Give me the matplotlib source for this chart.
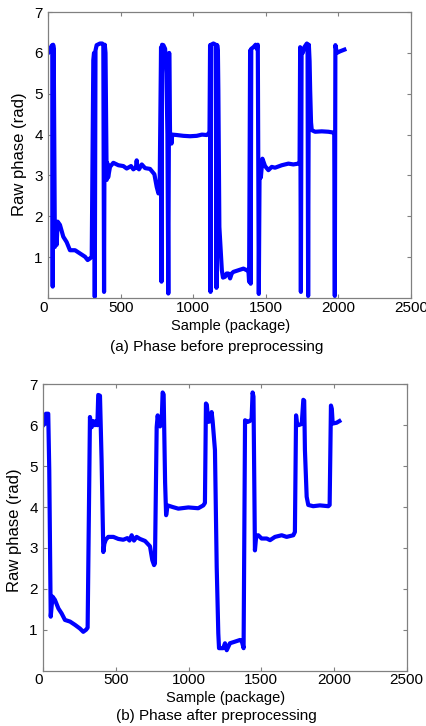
import numpy as np
import matplotlib
matplotlib.use('Agg')
import matplotlib.pyplot as plt

plt.rcParams['font.family'] = ['Liberation Sans', 'DejaVu Sans']

# (a) raw phase, wrapped into [0, 2pi]
before_x = [0, 12, 24, 28, 31, 34, 38, 46, 52, 58, 65, 81, 104, 127, 150, 185, 219, 254, 272, 288,
            300, 311, 316, 321, 326, 334, 357, 372, 380, 385, 390, 395, 403, 408, 413, 426, 449, 484,
            518, 541, 571, 587, 605, 610, 615, 626, 645, 668, 702, 732, 748, 760, 768, 778, 781, 785,
            794, 806, 815, 822, 828, 834, 840, 845, 850, 855, 886, 932, 978, 1024, 1060, 1093, 1104,
            1112, 1116, 1119, 1123, 1139, 1155, 1160, 1165, 1170, 1173, 1180, 1197, 1205, 1219, 1230,
            1242, 1254, 1265, 1277, 1311, 1346, 1369, 1380, 1385, 1392, 1396, 1400, 1415, 1430, 1438,
            1445, 1452, 1457, 1461, 1466, 1477, 1495, 1518, 1541, 1564, 1610, 1656, 1690, 1725, 1733,
            1737, 1742, 1747, 1755, 1766, 1783, 1788, 1792, 1797, 1802, 1806, 1812, 1817, 1840, 1886,
            1932, 1966, 1972, 1976, 1980, 1990, 2013, 2042]
before_y = [6.0, 6.05, 6.18, 6.1, 0.28, 6.2, 6.1, 1.25, 1.6, 1.3, 1.87, 1.79, 1.50, 1.37, 1.17, 1.17,
            1.09, 1.01, 0.93, 0.97, 1.01, 5.82, 6.0, 0.03, 6.06, 6.19, 6.23, 6.23, 6.2, 0.15, 6.2, 6.0,
            2.89, 3.3, 2.95, 3.21, 3.31, 3.25, 3.23, 3.17, 3.23, 3.15, 3.2, 3.37, 3.2, 3.15, 3.27, 3.18,
            3.16, 3.03, 2.72, 2.56, 2.6, 6.14, 0.40, 6.2, 6.19, 6.1, 5.5, 4.0, 0.11, 6.0, 4.0, 3.99,
            3.78, 4.0, 3.99, 3.97, 3.96, 3.97, 4.0, 3.99, 4.02, 4.05, 6.19, 0.15, 6.2, 6.23, 6.2, 0.25,
            6.19, 6.0, 5.09, 1.74, 0.68, 0.5, 0.52, 0.6, 0.60, 0.48, 0.6, 0.64, 0.68, 0.72, 0.68, 0.7,
            0.40, 6.06, 0.35, 6.1, 6.14, 6.2, 6.1, 6.2, 0.1, 3.0, 3.29, 2.95, 3.41, 3.23, 3.13, 3.21,
            3.19, 3.25, 3.29, 3.27, 3.29, 3.3, 6.14, 0.15, 6.1, 6.0, 6.14, 6.23, 6.2, 0.05, 6.2, 5.8,
            5.09, 4.3, 4.11, 4.07, 4.08, 4.07, 4.05, 4.05, 0.05, 6.19, 6.0, 6.04, 6.08]

# (b) phase after preprocessing
after_x = [0, 11, 18, 34, 41, 51, 58, 64, 80, 104, 126, 149, 184, 218, 252, 275, 294, 305, 321, 328,
           333, 344, 355, 365, 372, 378, 390, 401, 413, 420, 430, 447, 482, 516, 550, 578, 593, 608,
           624, 642, 665, 700, 734, 750, 762, 768, 780, 787, 795, 803, 814, 821, 828, 838, 845, 855,
           890, 929, 998, 1066, 1101, 1112, 1119, 1125, 1135, 1150, 1158, 1165, 1181, 1193, 1204,
           1209, 1238, 1250, 1262, 1284, 1319, 1353, 1365, 1378, 1388, 1406, 1420, 1433, 1440, 1446,
           1456, 1465, 1479, 1502, 1537, 1560, 1594, 1640, 1674, 1720, 1731, 1739, 1745, 1755, 1778,
           1789, 1795, 1800, 1812, 1823, 1857, 1903, 1961, 1970, 1979, 1985, 1991, 2018, 2037]
after_y = [6.0, 6.05, 6.28, 6.28, 4.9, 1.32, 1.6, 1.81, 1.73, 1.52, 1.40, 1.24, 1.20, 1.12, 1.03, 0.95,
           1.0, 1.05, 6.20, 6.0, 5.95, 6.1, 6.0, 6.1, 6.0, 6.74, 6.72, 5.15, 2.90, 3.1, 3.2, 3.27,
           3.27, 3.22, 3.20, 3.24, 3.18, 3.31, 3.18, 3.27, 3.22, 3.17, 3.04, 2.70, 2.58, 2.62, 5.95,
           6.24, 6.0, 5.97, 6.03, 6.80, 6.75, 4.6, 3.80, 4.04, 4.0, 3.96, 3.99, 3.97, 4.04, 4.1,
           6.53, 6.5, 6.08, 6.1, 6.32, 6.1, 5.39, 2.54, 0.91, 0.55, 0.55, 0.67, 0.50, 0.67, 0.71,
           0.75, 0.73, 0.55, 6.12, 6.08, 6.1, 6.15, 6.80, 6.7, 2.94, 3.3, 3.31, 3.23, 3.23, 3.19,
           3.27, 3.31, 3.27, 3.31, 3.39, 6.24, 6.05, 6.0, 6.03, 6.62, 6.6, 5.39, 4.25, 4.05, 4.02,
           4.04, 4.02, 4.05, 6.48, 6.4, 6.04, 6.06, 6.10]

x_ticks = [0, 500, 1000, 1500, 2000, 2500]
y_ticks = [1, 2, 3, 4, 5, 6, 7]


def style_axes(ax):
    ax.set_xlim(0, 2500)
    ax.set_ylim(0, 7)
    ax.set_xticks(x_ticks)
    ax.set_xticklabels([str(t) for t in x_ticks])
    ax.get_xticklabels()[0].set_horizontalalignment('right')
    ax.set_yticks(y_ticks)
    for sp in ax.spines.values():
        sp.set_color('#808080')
        sp.set_linewidth(0.9)
    ax.tick_params(direction='in', length=3, width=0.8, color='#808080',
                   top=True, right=True, labelsize=11, labelcolor='black')
    ax.tick_params(axis='x', pad=2)
    ax.tick_params(axis='y', pad=4)


fig = plt.figure(figsize=(4.27, 7.26), dpi=100)

ax1 = fig.add_axes([0.1129, 0.5895, 0.8492, 0.3939])
ax1.plot(before_x, before_y, color='#0000ff', linewidth=3)
style_axes(ax1)

ax2 = fig.add_axes([0.1014, 0.0762, 0.851, 0.3945])
ax2.plot(after_x, after_y, color='#0000ff', linewidth=3)
style_axes(ax2)

# labels
fig.text(20 / 427, 1 - 154 / 726, 'Raw phase (rad)', rotation=90, ha='center', va='center', fontsize=12)
fig.text(231 / 427, 1 - 326 / 726, 'Sample (package)', ha='center', va='center', fontsize=10.5)
fig.text(217 / 427, 1 - 347 / 726, '(a) Phase before preprocessing', ha='center', va='center', fontsize=11)

fig.text(15 / 427, 1 - 530 / 726, 'Raw phase (rad)', rotation=90, ha='center', va='center', fontsize=12)
fig.text(226 / 427, 1 - 698 / 726, 'Sample (package)', ha='center', va='center', fontsize=10.5)
fig.text(216 / 427, 1 - 716 / 726, '(b) Phase after preprocessing', ha='center', va='center', fontsize=11)

fig.savefig('out.png', dpi=100)
